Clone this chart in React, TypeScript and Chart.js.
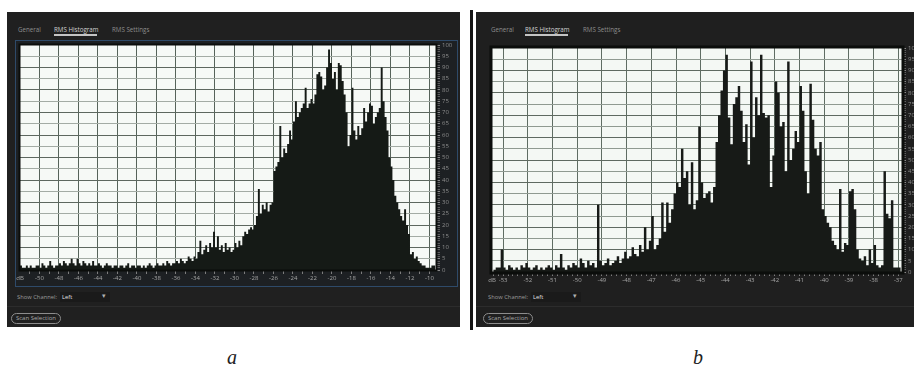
import React, { useEffect, useRef } from 'react';
import { Chart, registerables } from 'chart.js';
Chart.register(...registerables);

// ---------- DATA ----------
// Panel a: RMS histogram, bins of 0.2 dB starting at -52 dB
const A_START = -52;
const A_BIN = 0.2;
const A_VALUES = [
  1, 2, 1, 1, 2, 1, 2, 1, 1, 2,
  2, 1, 3, 2, 1, 2, 4, 2, 1, 2,
  2, 3, 2, 4, 3, 2, 3, 5, 3, 2,
  5, 3, 2, 4, 3, 2, 3, 2, 4, 2,
  2, 3, 2, 1, 2, 3, 2, 2, 1, 2,
  2, 1, 2, 2, 1, 2, 3, 1, 2, 2,
  1, 2, 2, 1, 2, 1, 2, 3, 2, 1,
  2, 3, 2, 2, 3, 2, 4, 3, 2, 3,
  3, 4, 3, 5, 4, 3, 4, 6, 5, 4,
  6, 5, 8, 13, 7, 9, 11, 8, 12, 10,
  17, 10, 15, 9, 11, 8, 12, 9, 10, 8,
  9, 12, 10, 13, 11, 15, 17, 16, 18, 19,
  18, 20, 24, 36, 25, 29, 27, 30, 26, 29,
  30, 44, 46, 48, 64, 50, 54, 52, 56, 62,
  58, 66, 75, 68, 70, 72, 74, 81, 72, 74,
  76, 74, 78, 87, 88, 86, 80, 82, 90, 98,
  92, 85, 88, 80, 92, 91, 84, 78, 70, 55,
  60, 81, 62, 58, 64, 60, 63, 72, 66, 70,
  74, 73, 65, 68, 70, 72, 90, 75, 68, 62,
  50, 46, 40, 33, 30, 27, 24, 22, 27, 20,
  16, 7, 8, 5, 6, 4, 3, 2, 2, 1,
  1, 1, 2,
];
const A_X_MIN = -52;
const A_X_MAX = -9.33;
const A_X_LABELS = [-50, -48, -46, -44, -42, -40, -38, -36, -34, -32, -30, -28, -26, -24, -22, -20, -18, -16, -14, -12, -10];

// Panel b: RMS histogram, bins of 0.1 dB starting at -53.4 dB
const B_START = -53.4;
const B_BIN = 0.1;
const B_VALUES = [
  2, 1, 2, 2,
  10, 2, 1, 3, 2, 1, 2, 1, 3, 2,
  4, 2, 1, 2, 3, 1, 2, 1, 2, 3,
  2, 1, 3, 2, 8, 2, 1, 3, 2, 4,
  3, 2, 6, 4, 2, 5, 3, 4, 2, 30,
  5, 3, 4, 6, 3, 4, 5, 7, 4, 6,
  9, 6, 7, 11, 8, 7, 12, 9, 20, 10,
  14, 25, 10, 12, 15, 31, 18, 31, 22, 28,
  35, 40, 38, 55, 42, 45, 30, 49, 28, 32,
  65, 40, 33, 35, 36, 31, 38, 58, 70, 81,
  90, 97, 69, 57, 75, 78, 83, 72, 58, 66,
  48, 94, 60, 78, 70, 97, 71, 69, 70, 38,
  52, 85, 80, 65, 67, 45, 94, 50, 55, 63,
  58, 83, 72, 45, 35, 84, 68, 55, 52, 58,
  28, 25, 22, 20, 14, 12, 10, 37, 9, 13,
  12, 36, 37, 28, 10, 6, 5, 7, 3, 10,
  4, 12, 3, 2, 3, 45, 26, 24, 32, 2,
  2,
];
const B_X_MIN = -53.45;
const B_X_MAX = -36.85;
const B_X_LABELS = [-53, -52, -51, -50, -49, -48, -47, -46, -45, -44, -43, -42, -41, -40, -39, -38, -37];

const Y_LABELS = [0, 5, 10, 15, 20, 25, 30, 35, 40, 45, 50, 55, 60, 65, 70, 75, 80, 85, 90, 95, 100];

const FONT = "'Open Sans', 'Noto Sans', sans-serif";

const near = (a: number, b: number) => Math.abs(a - b) < 1e-6;
const isMult = (v: number, s: number) => Math.abs(v / s - Math.round(v / s)) < 1e-6;

type HistProps = {
  values: number[];
  start: number;
  bin: number;
  xMin: number;
  xMax: number;
  xLabels: number[];
  minorStep: number;
  gridStep: number;
  width: number;
  height: number;
  yAxisWidth: number;
  xAxisHeight: number;
  vGrid: string;
  hDark: string;
  hLight: string;
  frameWidth: number;
  plotBg: string;
  barColor: string;
};

const framePlugin = {
  id: 'frame',
  beforeDraw(chart: any, _args: any, opts: any) {
    const { ctx, chartArea } = chart;
    ctx.save();
    ctx.fillStyle = opts.bg;
    ctx.fillRect(chartArea.left, chartArea.top, chartArea.right - chartArea.left, chartArea.bottom - chartArea.top);
    ctx.restore();
  },
  afterDraw(chart: any, _args: any, opts: any) {
    const { ctx, chartArea } = chart;
    ctx.save();
    ctx.strokeStyle = opts.color;
    ctx.lineWidth = opts.width;
    const h = opts.width / 2;
    ctx.strokeRect(chartArea.left - h + 0.5, chartArea.top - h + 0.5, chartArea.right - chartArea.left + opts.width - 1, chartArea.bottom - chartArea.top + opts.width - 1);
    ctx.restore();
  },
};

function Histogram(p: HistProps) {
  const ref = useRef<HTMLCanvasElement | null>(null);
  useEffect(() => {
    if (!ref.current) return;
    const pts = p.values.map((v, i) => ({ x: p.start + i * p.bin, y: v }));
    pts.push({ x: p.start + p.values.length * p.bin, y: p.values[p.values.length - 1] });

    const xTicks: number[] = [p.xMin];
    const first = Math.ceil((p.xMin - 1e-9) / p.minorStep);
    for (let k = first; k * p.minorStep <= p.xMax + 1e-9; k++) {
      const v = Math.round(k * p.minorStep * 100) / 100;
      if (!near(v, p.xMin)) xTicks.push(v);
    }
    const yTicks: number[] = [];
    for (let v = 0; v <= 100; v++) yTicks.push(v);

    const chart = new Chart(ref.current, {
      type: 'line',
      data: {
        datasets: [
          {
            data: pts,
            stepped: 'after',
            fill: 'origin',
            backgroundColor: p.barColor,
            borderColor: p.barColor,
            borderWidth: 0,
            pointRadius: 0,
          } as any,
        ],
      },
      plugins: [framePlugin as any],
      options: {
        animation: false,
        responsive: false,
        events: [],
        layout: { padding: { left: 4, top: 4, right: 0, bottom: 0 } },
        plugins: {
          legend: { display: false },
          tooltip: { enabled: false },
          frame: { bg: p.plotBg, color: '#0b0d0b', width: p.frameWidth },
        } as any,
        scales: {
          x: {
            type: 'linear',
            min: p.xMin,
            max: p.xMax,
            afterBuildTicks: (s: any) => {
              s.ticks = xTicks.map((v) => ({ value: v }));
            },
            afterFit: (s: any) => {
              s.height = p.xAxisHeight;
              s.paddingLeft = 0;
              s.paddingRight = 0;
            },
            border: { display: false },
            grid: {
              color: (c: any) => {
                const v = c.tick ? c.tick.value : 0;
                if (near(v, p.xMin)) return 'rgba(0,0,0,0)';
                return isMult(v, p.gridStep) ? p.vGrid : 'rgba(0,0,0,0)';
              },
              tickColor: (c: any) => (c.tick && near(c.tick.value, p.xMin) ? 'rgba(0,0,0,0)' : '#7d7d7d'),
              tickLength: 4,
              lineWidth: 1,
            },
            ticks: {
              autoSkip: false,
              maxRotation: 0,
              padding: 1,
              color: '#a6a6a6',
              font: { family: FONT, size: 6 },
              callback: (value: any) => {
                const v = Number(value);
                if (near(v, p.xMin)) return 'dB';
                return p.xLabels.some((l) => near(l, v)) ? String(Math.round(v)) : '';
              },
            },
          },
          y: {
            type: 'linear',
            position: 'right',
            min: 0,
            max: 100,
            afterBuildTicks: (s: any) => {
              s.ticks = yTicks.map((v) => ({ value: v }));
            },
            afterFit: (s: any) => {
              s.width = p.yAxisWidth;
              s.paddingTop = 0;
              s.paddingBottom = 0;
            },
            border: { display: false },
            grid: {
              color: (c: any) => {
                const v = c.tick ? c.tick.value : 0;
                if (v === 0 || v === 100) return 'rgba(0,0,0,0)';
                if (v % 10 === 0) return p.hDark;
                if (v % 5 === 0) return p.hLight;
                return 'rgba(0,0,0,0)';
              },
              tickColor: (c: any) => (c.tick && c.tick.value % 5 === 0 ? '#8a8a8a' : '#5e5e5e'),
              tickLength: 4,
              lineWidth: 1,
            },
            ticks: {
              autoSkip: false,
              padding: 2,
              color: '#8c8c8c',
              font: { family: FONT, size: 6 },
              callback: (value: any) => {
                const v = Number(value);
                return Y_LABELS.indexOf(v) >= 0 ? String(v) : '';
              },
            },
          },
        },
      } as any,
    });
    return () => chart.destroy();
  }, []);
  return <canvas ref={ref} width={p.width} height={p.height} style={{ width: p.width, height: p.height, display: 'block' }} />;
}

const txt = (left: number, top: number, text: string, color: string, extra: any = {}) => (
  <div style={{ position: 'absolute', left, top, fontSize: 6.2, lineHeight: '8px', color, whiteSpace: 'nowrap', fontFamily: FONT, ...extra }}>{text}</div>
);

function Chrome({ x, panelW, tabX, showX, btnX }: { x: number; panelW: number; tabX: number[]; showX: number; btnX: number }) {
  return (
    <>
      {txt(tabX[0], 26, 'General', '#8e8e8e')}
      {txt(tabX[1], 26, 'RMS Histogram', '#d2d2d2')}
      <div style={{ position: 'absolute', left: tabX[1], top: 34, width: 43, height: 1.5, background: '#c4c4c4' }} />
      {txt(tabX[2], 26, 'RMS Settings', '#8e8e8e')}
      <div style={{ position: 'absolute', left: showX + 43, top: 292, width: 50, height: 10, background: '#1a1a1a' }} />
      {txt(showX, 293, 'Show Channel:', '#9c9c9c', { fontSize: 5.8 })}
      {txt(showX + 45, 293, 'Left', '#e4e4e4', { fontSize: 5.8 })}
      {txt(showX + 85, 292, '▾', '#b0b0b0', { fontFamily: 'DejaVu Sans', fontSize: 7 })}
      <div style={{ position: 'absolute', left: x, top: 306, width: panelW, height: 1, background: '#2c2c2c' }} />
      <div
        style={{
          position: 'absolute',
          left: btnX,
          top: 313,
          width: 50,
          height: 11,
          boxSizing: 'border-box',
          border: '1px solid #8c8c8c',
          borderRadius: 6,
          color: '#a8a8a8',
          fontSize: 6,
          lineHeight: '9px',
          textAlign: 'center',
          fontFamily: FONT,
          whiteSpace: 'nowrap',
        }}
      >
        Scan Selection
      </div>
    </>
  );
}

export default function App() {
  return (
    <div style={{ position: 'absolute', left: 0, top: 0, width: 914, height: 376, background: '#ffffff', overflow: 'hidden', fontFamily: FONT }}>
      {/* Panel a */}
      <div style={{ position: 'absolute', left: 7, top: 12, width: 453, height: 315, background: '#202020' }} />
      <div style={{ position: 'absolute', left: 15, top: 40, width: 443, height: 247, boxSizing: 'border-box', border: '1px solid #2e4a69', background: '#1d2023' }} />
      <div style={{ position: 'absolute', left: 16, top: 41 }}>
        <Histogram
          values={A_VALUES}
          start={A_START}
          bin={A_BIN}
          xMin={A_X_MIN}
          xMax={A_X_MAX}
          xLabels={A_X_LABELS}
          minorStep={1}
          gridStep={2}
          width={441}
          height={245}
          yAxisWidth={21}
          xAxisHeight={16}
          vGrid="#56635a"
          hDark="#5d675f"
          hLight="#a3aba4"
          frameWidth={2}
          plotBg="#f6f9f6"
          barColor="#151a16"
        />
      </div>
      <Chrome x={7} panelW={453} tabX={[18, 54, 112]} showX={17} btnX={11} />

      {/* separator */}
      <div style={{ position: 'absolute', left: 470, top: 10, width: 3, height: 320, background: '#141414' }} />

      {/* Panel b */}
      <div style={{ position: 'absolute', left: 476, top: 12, width: 438, height: 315, background: '#1f1f1f', overflow: 'hidden' }}>
        <div style={{ position: 'absolute', left: 12, top: 32 }}>
          <Histogram
            values={B_VALUES}
            start={B_START}
            bin={B_BIN}
            xMin={B_X_MIN}
            xMax={B_X_MAX}
            xLabels={B_X_LABELS}
            minorStep={0.2}
            gridStep={1}
            width={442}
            height={246}
            yAxisWidth={28}
            xAxisHeight={18}
            vGrid="#5f6d63"
            hDark="#5f6a61"
            hLight="#8f9a91"
            frameWidth={3}
            plotBg="#f4f8f4"
            barColor="#171a17"
          />
        </div>
      </div>
      <Chrome x={476} panelW={438} tabX={[491, 525, 583]} showX={488} btnX={483} />

      <div style={{ position: 'absolute', left: 220, top: 346, width: 24, textAlign: 'center', fontFamily: "'Liberation Serif', serif", fontStyle: 'italic', fontSize: 20, color: '#222' }}>a</div>
      <div style={{ position: 'absolute', left: 686, top: 346, width: 24, textAlign: 'center', fontFamily: "'Liberation Serif', serif", fontStyle: 'italic', fontSize: 20, color: '#222' }}>b</div>
    </div>
  );
}
